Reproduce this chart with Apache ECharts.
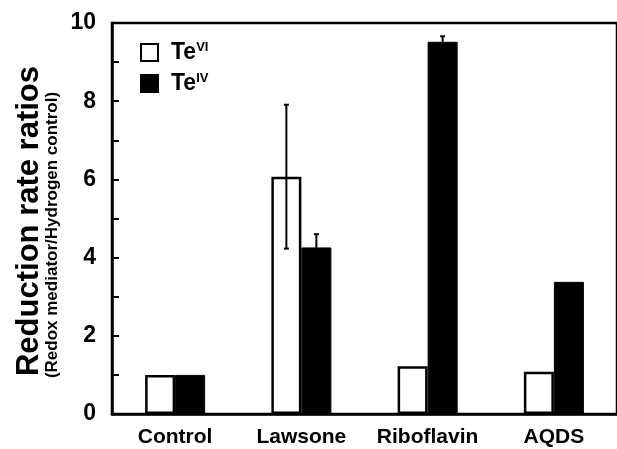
<!DOCTYPE html>
<html>
<head>
<meta charset="utf-8">
<script src="https://cdn.jsdelivr.net/npm/echarts@6/dist/echarts.min.js"></script>
<style>
    html, body { margin: 0; padding: 0; background: #fff; }
    #chart { width: 617px; height: 449px; }
</style>
</head>
<body>
<div id="chart"></div>
<script>
    var categories = ['Control', 'Lawsone', 'Riboflavin', 'AQDS'];
    var teVI = [1.0, 6.07, 1.22, 1.08];
    var teVIErr = [0, 1.84, 0, 0];
    var teIV = [1.0, 4.26, 9.52, 3.38];
    var teIVErr = [0, 0.34, 0.14, 0];

    var font = 'Liberation Sans, Arial, sans-serif';
    var dom = document.getElementById('chart');
    var myChart = echarts.init(dom);

    // error bars, offset to the middle of each bar (bar width 30, no gap)
    function errorSeries(name, vals, errs, offset) {
        var data = [];
        for (var i = 0; i < vals.length; i++) {
            if (errs[i] > 0) {
                data.push([i, vals[i] - errs[i], vals[i] + errs[i]]);
            }
        }
        return {
            name: name,
            type: 'custom',
            z: 5,
            renderItem: function (params, api) {
                var lo = api.coord([api.value(0), api.value(1)]);
                var hi = api.coord([api.value(0), api.value(2)]);
                var x = lo[0] + offset;
                var cap = 2.5;
                var style = {stroke: '#000', lineWidth: 2};
                return {
                    type: 'group',
                    children: [
                        {type: 'line', shape: {x1: x, y1: lo[1], x2: x, y2: hi[1]}, style: style},
                        {type: 'line', shape: {x1: x - cap, y1: lo[1], x2: x + cap, y2: lo[1]}, style: style},
                        {type: 'line', shape: {x1: x - cap, y1: hi[1], x2: x + cap, y2: hi[1]}, style: style}
                    ]
                };
            },
            data: data
        };
    }

    var option = {
        animation: false,
        backgroundColor: '#fff',
        grid: {
            left: 112,
            top: 23,
            width: 510,
            height: 391,
            show: true,
            borderColor: '#000',
            borderWidth: 2.5
        },
        legend: {
            orient: 'vertical',
            left: 135,
            top: 36,
            itemWidth: 17,
            itemHeight: 17,
            itemGap: 8,
            icon: 'rect',
            data: [
                {name: 'TeVI', itemStyle: {color: '#fff', borderColor: '#000', borderWidth: 2}},
                {name: 'TeIV', itemStyle: {color: '#000', borderColor: '#000', borderWidth: 2}}
            ],
            formatter: function (name) {
                return '{b|Te}{sup|' + name.slice(2) + '}';
            },
            textStyle: {
                rich: {
                    b: {fontFamily: font, fontWeight: 'bold', fontSize: 23, color: '#000', verticalAlign: 'bottom', padding: [0, 0, 0, 8]},
                    sup: {fontFamily: font, fontWeight: 'bold', fontSize: 13, color: '#000', verticalAlign: 'top'}
                }
            }
        },
        xAxis: {
            type: 'category',
            data: categories,
            axisLine: {lineStyle: {color: '#000', width: 2.5}},
            axisTick: {show: false},
            axisLabel: {
                color: '#000',
                fontFamily: font,
                fontWeight: 'bold',
                fontSize: 21,
                margin: 13,
                interval: 0
            }
        },
        yAxis: {
            type: 'value',
            min: 0,
            max: 10,
            interval: 1,
            splitLine: {show: false},
            axisLine: {show: true, lineStyle: {color: '#000', width: 2.5}},
            axisTick: {show: true, inside: true, length: 7, lineStyle: {color: '#000', width: 2}},
            axisLabel: {
                color: '#000',
                fontFamily: font,
                fontWeight: 'bold',
                fontSize: 23,
                margin: 16,
                formatter: function (v) {
                    return v % 2 === 0 ? v : '';
                }
            }
        },
        graphic: [
            {
                type: 'text',
                x: 29,
                y: 221,
                rotation: Math.PI / 2,
                style: {
                    text: 'Reduction rate ratios',
                    fontFamily: font,
                    fontWeight: 'bold',
                    fontSize: 31,
                    fill: '#000',
                    align: 'center',
                    verticalAlign: 'middle'
                }
            },
            {
                type: 'text',
                x: 52,
                y: 235,
                rotation: Math.PI / 2,
                style: {
                    text: '(Redox mediator/Hydrogen control)',
                    fontFamily: font,
                    fontWeight: 'bold',
                    fontSize: 17,
                    fill: '#000',
                    align: 'center',
                    verticalAlign: 'middle'
                }
            }
        ],
        series: [
            {
                name: 'TeVI',
                type: 'bar',
                barWidth: 30,
                barGap: '0%',
                itemStyle: {color: '#fff', borderColor: '#000', borderWidth: 2.5},
                data: teVI
            },
            {
                name: 'TeIV',
                type: 'bar',
                barWidth: 30,
                barGap: '0%',
                itemStyle: {color: '#000', borderColor: '#000', borderWidth: 1},
                data: teIV
            },
            errorSeries('TeVI err', teVI, teVIErr, -15),
            errorSeries('TeIV err', teIV, teIVErr, 15)
        ]
    };

    if (option && typeof option === 'object') {
        myChart.setOption(option, true);
    }
</script>
</body>
</html>
